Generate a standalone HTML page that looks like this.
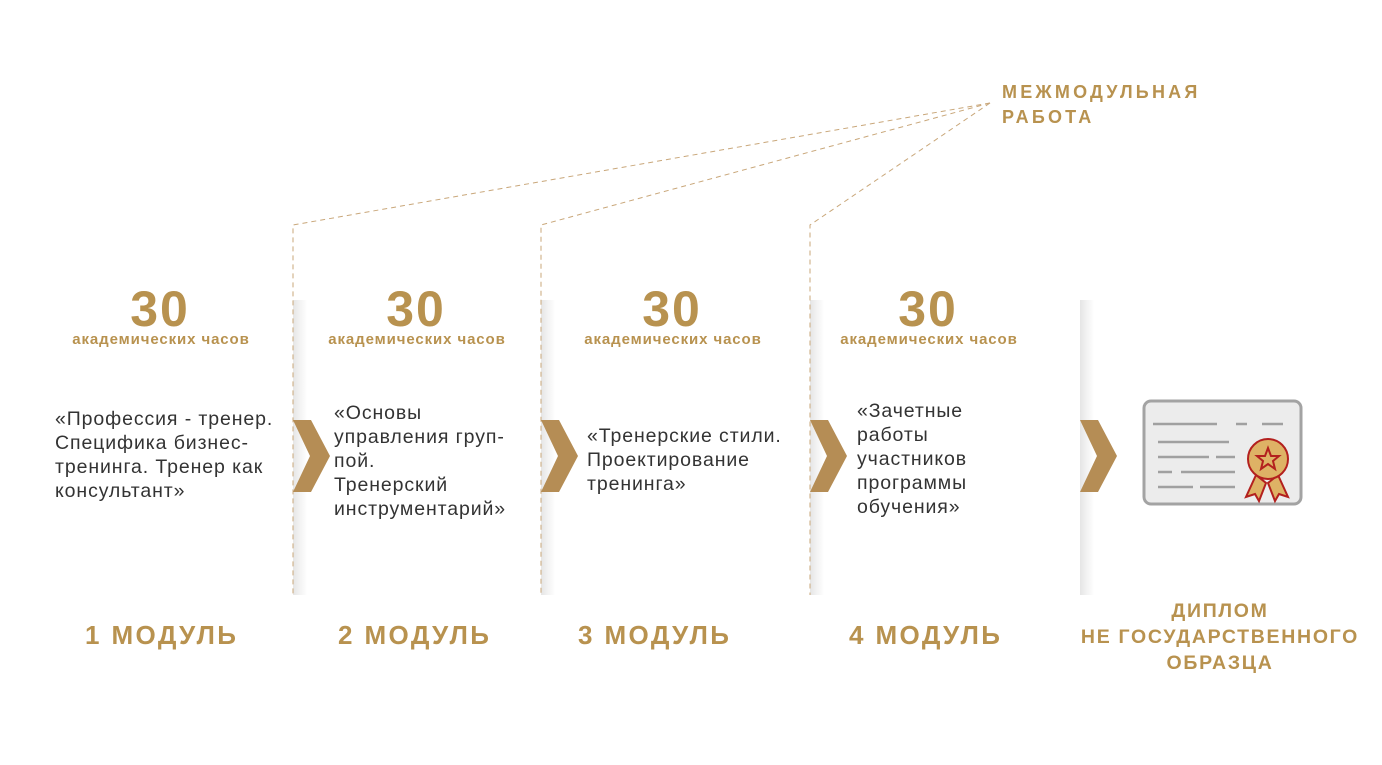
<!DOCTYPE html>
<html><head><meta charset="utf-8"><style>
html,body{margin:0;padding:0;background:#fff;}
body{width:1382px;height:765px;position:relative;overflow:hidden;font-family:"Liberation Sans",sans-serif;}
.t{position:absolute;}
.g{color:#b8924f;font-weight:bold;}
.num{font-size:50px;text-align:center;width:200px;letter-spacing:2px;}
.ak{font-size:15px;text-align:center;width:240px;letter-spacing:0.9px;}
.mod{font-size:26px;letter-spacing:2.4px;}
.desc{font-size:19.5px;color:#333;line-height:24px;letter-spacing:0.9px;}
</style></head><body>
<svg width="1382" height="765" style="position:absolute;left:0;top:0">
<defs>
<linearGradient id="sh" x1="0" x2="1"><stop offset="0" stop-color="#000" stop-opacity="0.10"/><stop offset="1" stop-color="#000" stop-opacity="0"/></linearGradient>
</defs>
<g fill="url(#sh)">
<rect x="293" y="300" width="14" height="295"/>
<rect x="541" y="300" width="14" height="295"/>
<rect x="810" y="300" width="14" height="295"/>
<rect x="1080" y="300" width="14" height="295"/>
</g>
<g stroke="#c9a77a" stroke-width="1" stroke-dasharray="5,4" fill="none">
<polyline points="990,103 293,225 293,595"/>
<polyline points="990,103 541,225 541,595"/>
<polyline points="990,103 810,225 810,595"/>
</g>
<g fill="#b58d55">
<polygon points="293,420 311,420 330,456 311,492 293,492 310,456"/>
<polygon points="541,420 559,420 578,456 559,492 541,492 558,456"/>
<polygon points="810,420 828,420 847,456 828,492 810,492 827,456"/>
<polygon points="1080,420 1098,420 1117,456 1098,492 1080,492 1097,456"/>
</g>
<rect x="1144" y="401" width="157" height="103" rx="7" fill="#ececec" stroke="#a3a3a3" stroke-width="3"/>
<g stroke="#a0a0a0" stroke-width="2.5">
<line x1="1153" y1="424" x2="1217" y2="424"/><line x1="1236" y1="424" x2="1247" y2="424"/><line x1="1262" y1="424" x2="1283" y2="424"/>
<line x1="1158" y1="442" x2="1229" y2="442"/>
<line x1="1158" y1="457" x2="1209" y2="457"/><line x1="1216" y1="457" x2="1235" y2="457"/>
<line x1="1158" y1="472" x2="1172" y2="472"/><line x1="1181" y1="472" x2="1235" y2="472"/>
<line x1="1158" y1="487" x2="1193" y2="487"/><line x1="1200" y1="487" x2="1235" y2="487"/>
</g>
<g stroke="#b3201e" stroke-width="2" fill="#deb265">
<polygon points="1256,475 1246,497 1255,494 1259,501 1266,483"/>
<polygon points="1278,475 1288,497 1279,494 1275,501 1268,483"/>
<circle cx="1268" cy="459" r="20"/>
<polygon points="1268,448 1271,456 1279,456 1273,461 1275,469 1268,464 1261,469 1263,461 1257,456 1265,456"/>
</g>
</svg>
<div class="t g" style="left:1002px;top:80px;font-size:18px;line-height:25px;letter-spacing:3.2px;">МЕЖМОДУЛЬНАЯ<br>РАБОТА</div>

<div class="t g num" style="left:60px;top:280px;">30</div>
<div class="t g ak" style="left:41px;top:331px;">академических часов</div>
<div class="t g num" style="left:316px;top:280px;">30</div>
<div class="t g ak" style="left:297px;top:331px;">академических часов</div>
<div class="t g num" style="left:572px;top:280px;">30</div>
<div class="t g ak" style="left:553px;top:331px;">академических часов</div>
<div class="t g num" style="left:828px;top:280px;">30</div>
<div class="t g ak" style="left:809px;top:331px;">академических часов</div>

<div class="t desc" style="left:55px;top:407px;">«Профессия - тренер.<br>Специфика бизнес-<br>тренинга. Тренер как<br>консультант»</div>
<div class="t desc" style="left:334px;top:401px;">«Основы<br>управления груп-<br>пой.<br>Тренерский<br>инструментарий»</div>
<div class="t desc" style="left:587px;top:424px;">«Тренерские стили.<br>Проектирование<br>тренинга»</div>
<div class="t desc" style="left:857px;top:399px;">«Зачетные<br>работы<br>участников<br>программы<br>обучения»</div>

<div class="t g mod" style="left:85px;top:620px;">1 МОДУЛЬ</div>
<div class="t g mod" style="left:338px;top:620px;">2 МОДУЛЬ</div>
<div class="t g mod" style="left:578px;top:620px;">3 МОДУЛЬ</div>
<div class="t g mod" style="left:849px;top:620px;">4 МОДУЛЬ</div>
<div class="t g" style="left:1060px;top:598px;width:320px;text-align:center;font-size:19.5px;line-height:26px;letter-spacing:1.7px;">ДИПЛОМ<br>НЕ ГОСУДАРСТВЕННОГО<br>ОБРАЗЦА</div>
</body></html>
